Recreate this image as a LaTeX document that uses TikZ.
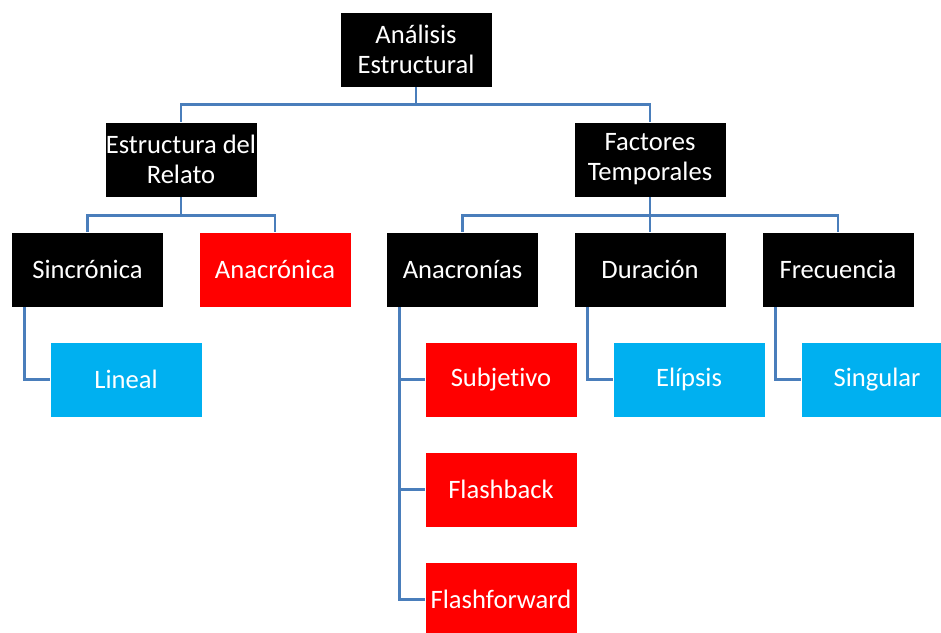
\documentclass[tikz,border=0pt]{standalone}
\usepackage{fontspec}
\setmainfont{Carlito}[Ligatures=NoCommon]
\usetikzlibrary{calc}
\definecolor{linkblue}{HTML}{4A7EBB}
\definecolor{boxred}{HTML}{FF0000}
\definecolor{boxcyan}{HTML}{00B0F0}
\tikzset{
  box/.style={minimum width=152pt, minimum height=75pt, inner sep=0pt,
    text=white, align=center, draw=white, line width=0.4pt,
    font=\fontsize{26.6}{30}\selectfont},
  blackbox/.style={box, fill=black},
  redbox/.style={box, fill=boxred},
  cyanbox/.style={box, fill=boxcyan},
  link/.style={draw=linkblue, line width=2.7pt},
}
\begin{document}
\begin{tikzpicture}[x=1pt, y=-1pt]
  \useasboundingbox (0,0) rectangle (941,632);
  \clip (0,0) rectangle (941,632);

  % hierarchy boxes
  \node[blackbox] (top)   at (416,49.5)  {Análisis\\Estructural};
  \node[blackbox] (estr)  at (181,159.5) {Estructura del\\Relato};
  \node[blackbox] (fact)  at (650,159.5) {Factores\\Temporales};
  \node[blackbox] (sinc)  at (87.5,269.5) {Sincrónica};
  \node[redbox]   (anac)  at (275,269.5) {Anacrónica};
  \node[blackbox] (anas)  at (462.5,269.5) {Anacronías};
  \node[blackbox] (dur)   at (650,269.5) {Duración};
  \node[blackbox] (frec)  at (838,269.5) {Frecuencia};
  \node[cyanbox]  (lin)   at (126,379.5) {Lineal};
  \node[redbox]   (subj)  at (501,379.5) {Subjetivo};
  \node[redbox]   (fb)    at (501,489.5) {Flashback};
  \node[redbox]   (ff)    at (501,599.5) {Flashforward};
  \node[cyanbox]  (elip)  at (689,379.5) {Elípsis};
  \node[cyanbox]  (sing)  at (877,379.5) {Singular};

  % tree connectors
  \coordinate (j0) at ($(top.south)+(0,17)$);
  \draw[link] (top.south) -- (j0);
  \draw[link] (j0) -| (estr.north);
  \draw[link] (j0) -| (fact.north);

  \coordinate (j1) at ($(estr.south)+(0,18)$);
  \draw[link] (estr.south) -- (j1);
  \draw[link] (j1) -| (sinc.north);
  \draw[link] (j1) -| (anac.north);

  \coordinate (j2) at ($(fact.south)+(0,18)$);
  \draw[link] (fact.south) -- (j2);
  \draw[link] (j2) -| (anas.north);
  \draw[link] (j2) -- (dur.north);
  \draw[link] (j2) -| (frec.north);

  % side connectors
  \draw[link] ($(sinc.south west)+(13,0)$) |- (lin.west);
  \coordinate (sa) at ($(anas.south west)+(13.5,0)$);
  \draw[link] (sa) |- (ff.west);
  \draw[link] (sa) |- (subj.west);
  \draw[link] (sa) |- (fb.west);
  \draw[link] ($(dur.south west)+(14,0)$) |- (elip.west);
  \draw[link] ($(frec.south west)+(14,0)$) |- (sing.west);
\end{tikzpicture}
\end{document}
